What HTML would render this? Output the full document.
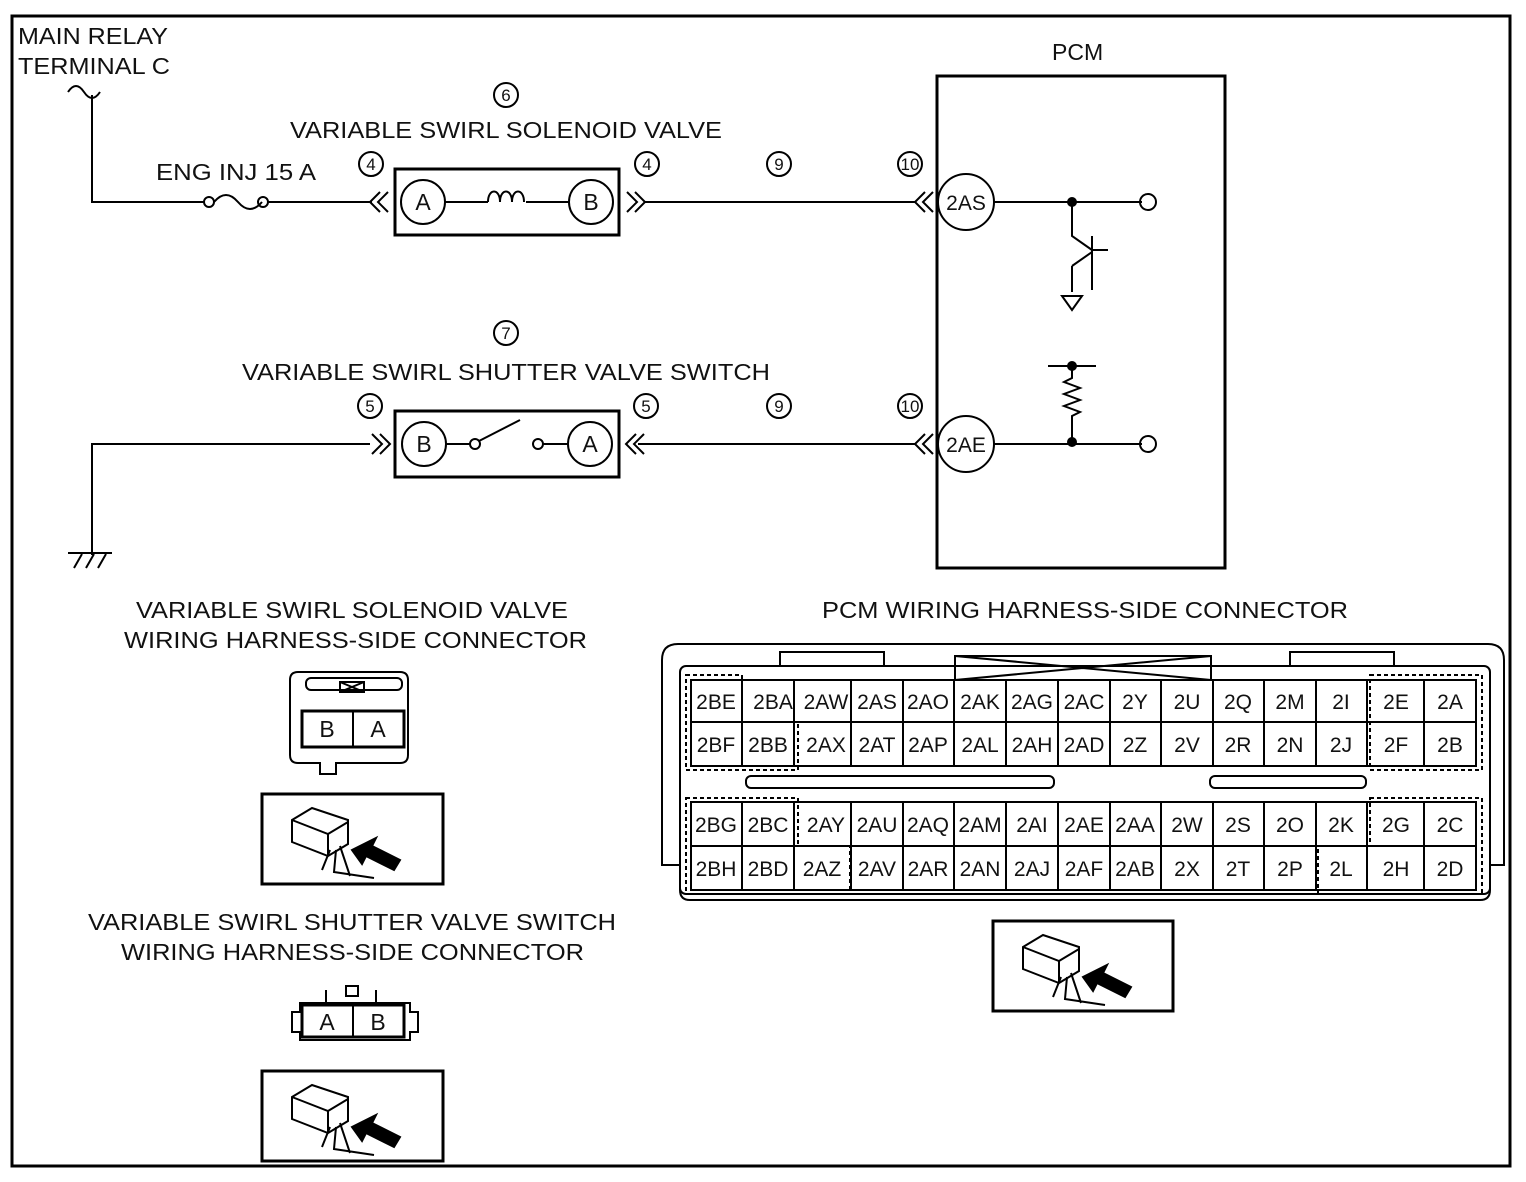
<!DOCTYPE html>
<html><head><meta charset="utf-8"><style>
html,body{margin:0;padding:0;background:#fff}
svg{display:block}
text{font-family:"Liberation Sans",sans-serif;fill:#111}
</style></head><body>
<svg width="1526" height="1182" viewBox="0 0 1526 1182" xmlns="http://www.w3.org/2000/svg">
<defs>
<g id="ic" fill="none" stroke="#000" stroke-width="2"><path d="M292 820 l20 -12 l36 12 v24 l-20 12 l-36 -14 Z M292 820 l36 14 l20 -12 M328 834 v22"/>
<path d="M330 850 l-8 20 M336 850 l-2 22 l40 6 M340 846 l10 30"/>
<path d="M352 850 l24 -12 l-4 8 l28 14 l-6 10 l-28 -14 l-4 8 Z" fill="#000"/></g>
</defs>
<rect x="12" y="16" width="1498" height="1150" fill="none" stroke="#000" stroke-width="3"/>
<g font-size="23">
<text x="18" y="44" textLength="150" lengthAdjust="spacingAndGlyphs">MAIN RELAY</text>
<text x="18" y="74" textLength="152" lengthAdjust="spacingAndGlyphs">TERMINAL C</text>
<text x="1052" y="60">PCM</text>
<text x="290" y="138" textLength="432" lengthAdjust="spacingAndGlyphs">VARIABLE SWIRL SOLENOID VALVE</text>
<text x="156" y="180" textLength="160" lengthAdjust="spacingAndGlyphs">ENG INJ 15 A</text>
<text x="242" y="380" textLength="528" lengthAdjust="spacingAndGlyphs">VARIABLE SWIRL SHUTTER VALVE SWITCH</text>
<text x="136" y="618" textLength="432" lengthAdjust="spacingAndGlyphs">VARIABLE SWIRL SOLENOID VALVE</text>
<text x="124" y="648" textLength="463" lengthAdjust="spacingAndGlyphs">WIRING HARNESS-SIDE CONNECTOR</text>
<text x="822" y="618" textLength="526" lengthAdjust="spacingAndGlyphs">PCM WIRING HARNESS-SIDE CONNECTOR</text>
<text x="88" y="930" textLength="528" lengthAdjust="spacingAndGlyphs">VARIABLE SWIRL SHUTTER VALVE SWITCH</text>
<text x="121" y="960" textLength="463" lengthAdjust="spacingAndGlyphs">WIRING HARNESS-SIDE CONNECTOR</text>
</g>
<g fill="none" stroke="#000" stroke-width="2">
<circle cx="506" cy="95" r="12"/><circle cx="371" cy="164" r="12"/><circle cx="647" cy="164" r="12"/>
<circle cx="779" cy="164" r="12"/><circle cx="910" cy="164" r="12"/>
<circle cx="506" cy="333" r="12"/><circle cx="370" cy="406" r="12"/><circle cx="646" cy="406" r="12"/>
<circle cx="779" cy="406" r="12"/><circle cx="910" cy="406" r="12"/>
<path d="M68 92 q8 -12 16 0 q8 12 16 0"/>
<path d="M92 95 V202 H205"/>
<circle cx="209" cy="202" r="5"/><path d="M214 202 q12 -14 24 0 q12 14 24 0"/><circle cx="263" cy="202" r="5"/>
<path d="M268 202 H372"/>
<path d="M380 192 l-10 10 l10 10 M388 192 l-10 10 l10 10"/>
<rect x="395" y="169" width="224" height="66" stroke-width="3"/>
<circle cx="423" cy="202" r="22"/><circle cx="591" cy="202" r="22"/>
<path d="M445 202 H488 M526 202 H569"/>
<path d="M488 202 c0 -14 12 -14 12 0 c0 -14 12 -14 12 0 c0 -14 12 -14 12 0"/>
<path d="M627 192 l10 10 l-10 10 M635 192 l10 10 l-10 10"/>
<path d="M645 202 H915"/>
<path d="M925 192 l-10 10 l10 10 M933 192 l-10 10 l10 10"/>
<rect x="937" y="76" width="288" height="492" stroke-width="3"/>
<circle cx="966" cy="202" r="28" fill="#fff"/><circle cx="966" cy="444" r="28" fill="#fff"/>
<path d="M994 202 H1142"/><circle cx="1148" cy="202" r="8"/>
<path d="M1072 202 V236 L1092 250 M1092 236 V264 M1092 250 H1108 M1072 266 L1092 252 V290 M1072 266 V292"/>
<path d="M1062 296 H1082 L1072 310 Z"/>
<path d="M994 444 H1142"/><circle cx="1148" cy="444" r="8"/>
<path d="M1048 366 H1096 M1072 366 V378 l-8 4 l16 6 l-16 6 l16 6 l-16 6 l16 6 l-8 4 V442"/>
<path d="M92 555 V444 H370"/>
<path d="M68 553 H112 M74 568 l8 -14 M86 568 l8 -14 M98 568 l8 -14"/>
<path d="M372 434 l10 10 l-10 10 M380 434 l10 10 l-10 10"/>
<rect x="395" y="411" width="224" height="66" stroke-width="3"/>
<circle cx="424" cy="444" r="22"/><circle cx="590" cy="444" r="22"/>
<path d="M446 444 H470"/><circle cx="475" cy="444" r="5"/><path d="M479 441 L520 420"/><circle cx="538" cy="444" r="5"/><path d="M543 444 H568"/>
<path d="M636 434 l-10 10 l10 10 M644 434 l-10 10 l10 10"/>
<path d="M638 444 H915"/>
<path d="M925 434 l-10 10 l10 10 M933 434 l-10 10 l10 10"/>
</g>
<g fill="#000"><circle cx="1072" cy="202" r="5"/><circle cx="1072" cy="366" r="5"/><circle cx="1072" cy="442" r="5"/></g>
<g font-size="23" text-anchor="middle">
<text x="423" y="210">A</text><text x="591" y="210">B</text>
<text x="424" y="452">B</text><text x="590" y="452">A</text>
<text x="966" y="210" font-size="21">2AS</text><text x="966" y="452" font-size="21">2AE</text>
</g>
<g font-size="17" text-anchor="middle">
<text x="506" y="101">6</text><text x="371" y="170">4</text><text x="647" y="170">4</text><text x="779" y="170">9</text><text x="910" y="170">10</text>
<text x="506" y="339">7</text><text x="370" y="412">5</text><text x="646" y="412">5</text><text x="779" y="412">9</text><text x="910" y="412">10</text>
</g>
<g fill="none" stroke="#000" stroke-width="2">
<path d="M300 672 H400 q8 0 8 8 V755 q0 8 -8 8 H336 V774 H320 V763 H298 q-8 0 -8 -8 V680 q0 -8 8 -8 Z"/>
<rect x="306" y="678" width="96" height="12" rx="5"/>
<rect x="340" y="682" width="24" height="10"/><path d="M340 682 L364 692 M364 682 L340 692"/>
<rect x="302" y="711" width="102" height="36" stroke-width="3"/><path d="M353 711 V747"/>
<rect x="262" y="794" width="181" height="90" stroke-width="3"/>
<rect x="262" y="1071" width="181" height="90" stroke-width="3"/>
<rect x="993" y="921" width="180" height="90" stroke-width="3"/>
<path d="M300 1003 H410 V1012 H418 V1032 H410 V1040 H300 V1032 H292 V1012 H300 Z"/>
<rect x="302" y="1005" width="102" height="32" stroke-width="3"/><path d="M353 1005 V1037"/>
<path d="M326 990 V1003 M376 990 V1003"/><rect x="346" y="986" width="12" height="10"/>
</g>
<g font-size="23" text-anchor="middle"><text x="327" y="737">B</text><text x="378" y="737">A</text><text x="327" y="1030">A</text><text x="378" y="1030">B</text></g>
<use href="#ic"/>
<use href="#ic" transform="translate(0,277)"/>
<use href="#ic" transform="translate(731,127)"/>
<g fill="none" stroke="#000" stroke-width="2">
<path d="M662 865 V660 q0 -16 16 -16 H1488 q16 0 16 16 V865 H1490 V890 q0 10 -10 10 H690 q-10 0 -10 -10 V865 Z"/>
<rect x="680" y="666" width="810" height="228" rx="6"/>
<rect x="780" y="652" width="104" height="14"/><rect x="1290" y="652" width="104" height="14"/>
<rect x="955" y="656" width="256" height="24"/><path d="M955 656 L1211 680 M1211 656 L955 680"/>
<rect x="746" y="776" width="308" height="12" rx="5"/><rect x="1210" y="776" width="156" height="12" rx="5"/>
<rect x="691" y="680" width="785" height="86"/><rect x="691" y="802" width="785" height="88"/>
<path d="M691 722 H1476 M691 846 H1476"/>
<path d="M742 680 V766 M794 680 V766 M851 680 V766 M903 680 V766 M954 680 V766 M1006 680 V766 M1058 680 V766 M1110 680 V766 M1161 680 V766 M1213 680 V766 M1264 680 V766 M1316 680 V766 M1367 680 V766 M1424 680 V766"/>
<path d="M742 802 V890 M794 802 V890 M851 802 V890 M903 802 V890 M954 802 V890 M1006 802 V890 M1058 802 V890 M1110 802 V890 M1161 802 V890 M1213 802 V890 M1264 802 V890 M1316 802 V890 M1367 802 V890 M1424 802 V890"/>
</g>
<g fill="none" stroke="#000" stroke-width="2" stroke-dasharray="4 3">
<path d="M686 675 H742 V722 H798 V770 H686 Z"/>
<path d="M1370 675 H1482 V770 H1370 Z"/>
<path d="M686 798 H798 V846 H850 V894 H686 Z"/>
<path d="M1370 798 H1482 V894 H1318 V846 H1370 Z"/>
</g>
<g font-size="21" text-anchor="middle">
<text x="716" y="709">2BE</text><text x="773" y="709">2BA</text><text x="826" y="709">2AW</text><text x="877" y="709">2AS</text><text x="928" y="709">2AO</text><text x="980" y="709">2AK</text><text x="1032" y="709">2AG</text><text x="1084" y="709">2AC</text><text x="1135" y="709">2Y</text><text x="1187" y="709">2U</text><text x="1238" y="709">2Q</text><text x="1290" y="709">2M</text><text x="1341" y="709">2I</text><text x="1396" y="709">2E</text><text x="1450" y="709">2A</text>
<text x="716" y="752">2BF</text><text x="768" y="752">2BB</text><text x="826" y="752">2AX</text><text x="877" y="752">2AT</text><text x="928" y="752">2AP</text><text x="980" y="752">2AL</text><text x="1032" y="752">2AH</text><text x="1084" y="752">2AD</text><text x="1135" y="752">2Z</text><text x="1187" y="752">2V</text><text x="1238" y="752">2R</text><text x="1290" y="752">2N</text><text x="1341" y="752">2J</text><text x="1396" y="752">2F</text><text x="1450" y="752">2B</text>
<text x="716" y="832">2BG</text><text x="768" y="832">2BC</text><text x="826" y="832">2AY</text><text x="877" y="832">2AU</text><text x="928" y="832">2AQ</text><text x="980" y="832">2AM</text><text x="1032" y="832">2AI</text><text x="1084" y="832">2AE</text><text x="1135" y="832">2AA</text><text x="1187" y="832">2W</text><text x="1238" y="832">2S</text><text x="1290" y="832">2O</text><text x="1341" y="832">2K</text><text x="1396" y="832">2G</text><text x="1450" y="832">2C</text>
<text x="716" y="876">2BH</text><text x="768" y="876">2BD</text><text x="822" y="876">2AZ</text><text x="877" y="876">2AV</text><text x="928" y="876">2AR</text><text x="980" y="876">2AN</text><text x="1032" y="876">2AJ</text><text x="1084" y="876">2AF</text><text x="1135" y="876">2AB</text><text x="1187" y="876">2X</text><text x="1238" y="876">2T</text><text x="1290" y="876">2P</text><text x="1341" y="876">2L</text><text x="1396" y="876">2H</text><text x="1450" y="876">2D</text>
</g>
</svg>
</body></html>
